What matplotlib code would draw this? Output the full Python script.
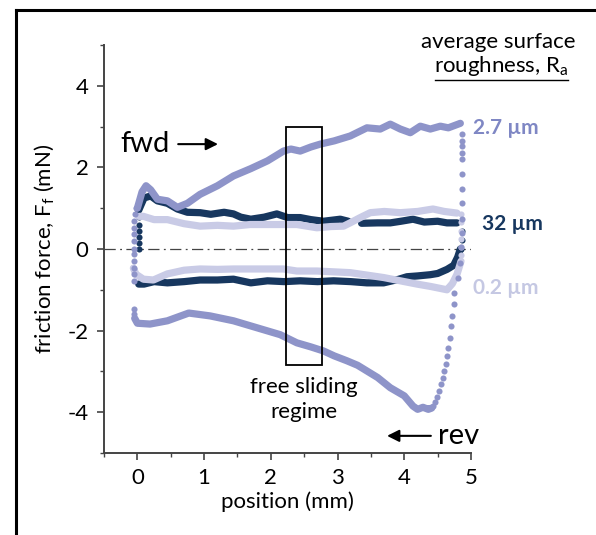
import numpy as np
import matplotlib.pyplot as plt
from matplotlib.lines import Line2D
from matplotlib.patches import Rectangle

plt.rcParams['font.family'] = ['Lato', 'DejaVu Sans']
plt.rcParams['mathtext.fontset'] = 'custom'
plt.rcParams['mathtext.rm'] = 'Lato'
plt.rcParams['mathtext.default'] = 'regular'

# colours for the three surfaces
c_27 = '#8e94c9'
c_32 = '#17375f'
c_02 = '#c9cbe6'

# ---- 2.7 um ----
fwd27_x = [0.00, 0.07, 0.13, 0.20, 0.30, 0.45, 0.60, 0.75, 0.94, 1.20, 1.44, 1.70, 1.95, 2.19, 2.30,
           2.44, 2.60, 2.74, 2.95, 3.19, 3.44, 3.64, 3.79, 3.94, 4.09, 4.24, 4.39, 4.54, 4.66, 4.84]
fwd27_y = [1.00, 1.40, 1.55, 1.45, 1.22, 1.18, 1.02, 1.12, 1.34, 1.55, 1.79, 1.97, 2.16, 2.40, 2.45,
           2.40, 2.50, 2.57, 2.65, 2.77, 2.97, 2.94, 3.06, 2.94, 2.85, 3.01, 2.94, 3.01, 2.97, 3.08]
rev27_x = [4.41, 4.36, 4.28, 4.20, 4.13, 4.00, 3.79, 3.60, 3.44, 3.30, 3.14, 2.95, 2.79, 2.60, 2.39,
           2.14, 1.79, 1.44, 1.09, 0.77, 0.45, 0.19, 0.00, -0.04]
rev27_y = [-3.90, -3.93, -3.88, -3.93, -3.85, -3.60, -3.40, -3.15, -2.99, -2.85, -2.74, -2.62, -2.50,
           -2.40, -2.30, -2.10, -1.93, -1.76, -1.64, -1.57, -1.76, -1.84, -1.82, -1.70]
# sparse dots at the turning points
turn27_x = [-0.05, -0.05, -0.05, -0.05, -0.05, -0.05, -0.05, -0.05, -0.05, -0.05, -0.04, -0.02, -0.05, -0.05,
            4.86, 4.86, 4.86, 4.86, 4.86, 4.86, 4.86, 4.86, 4.86, 4.86, 4.85, 4.83, 4.80, 4.75, 4.74, 4.72,
            4.70, 4.68, 4.66, 4.64, 4.62, 4.60, 4.58, 4.55, 4.52, 4.49, 4.46, 4.43]
turn27_y = [-0.78, -0.62, -0.47, -0.30, -0.12, 0.00, 0.20, 0.37, 0.51, 0.69, 0.86, 1.00, -1.47, -1.60,
            2.82, 2.65, 2.52, 2.35, 2.20, 1.83, 1.47, 1.13, 0.73, 0.40, 0.05, -0.35, -0.72, -1.08, -1.35,
            -1.64, -1.89, -2.18, -2.43, -2.62, -2.82, -2.99, -3.16, -3.31, -3.48, -3.62, -3.75, -3.85]

# ---- 32 um ----
fwd32_x = [0.02, 0.10, 0.20, 0.30, 0.45, 0.60, 0.75, 0.94, 1.10, 1.30, 1.44, 1.55, 1.70, 1.90, 2.09,
           2.25, 2.44, 2.60, 2.79, 3.04, 3.16]
fwd32_y = [0.95, 1.25, 1.30, 1.18, 1.12, 0.98, 0.90, 0.89, 0.85, 0.90, 0.86, 0.78, 0.73, 0.78, 0.86,
           0.77, 0.77, 0.72, 0.68, 0.73, 0.68]
fwd32b_x = [3.36, 3.60, 3.79, 3.95, 4.13, 4.30, 4.50, 4.64, 4.79]
fwd32b_y = [0.63, 0.64, 0.64, 0.68, 0.73, 0.66, 0.68, 0.64, 0.64]
rev32_x = [4.84, 4.80, 4.74, 4.64, 4.50, 4.39, 4.20, 4.04, 3.90, 3.69, 3.44, 3.20, 2.94, 2.70, 2.44,
           2.20, 1.95, 1.70, 1.44, 1.20, 0.94, 0.70, 0.45, 0.25, 0.10, 0.02]
rev32_y = [0.00, -0.20, -0.40, -0.50, -0.60, -0.63, -0.66, -0.68, -0.75, -0.83, -0.83, -0.80, -0.78,
           -0.80, -0.78, -0.80, -0.78, -0.83, -0.74, -0.76, -0.76, -0.80, -0.83, -0.80, -0.86, -0.86]
turn32_x = [0.02, 0.02, 0.02, 0.02, 0.02, 0.02, 4.86, 4.86, 4.85]
turn32_y = [0.00, 0.15, 0.30, 0.45, 0.60, 0.78, 0.44, 0.22, 0.00]

# ---- 0.2 um ----
fwd02_x = [0.02, 0.09, 0.25, 0.45, 0.70, 0.94, 1.20, 1.44, 1.69, 1.95, 2.19, 2.39, 2.69, 2.90, 3.09,
           3.20, 3.34, 3.49, 3.70, 3.94, 4.20, 4.43, 4.60, 4.79]
fwd02_y = [0.80, 0.80, 0.72, 0.72, 0.62, 0.56, 0.58, 0.56, 0.60, 0.60, 0.60, 0.60, 0.52, 0.55, 0.56,
           0.65, 0.77, 0.89, 0.92, 0.89, 0.92, 0.98, 0.92, 0.88]
rev02_x = [4.85, 4.79, 4.72, 4.64, 4.58, 4.40, 4.19, 3.94, 3.69, 3.44, 3.19, 2.94, 2.69, 2.39, 2.19,
           1.95, 1.69, 1.44, 1.20, 0.94, 0.70, 0.45, 0.24, 0.09, -0.02, -0.06]
rev02_y = [-0.30, -0.62, -0.85, -1.00, -0.98, -0.92, -0.86, -0.78, -0.70, -0.64, -0.58, -0.56, -0.54,
           -0.54, -0.49, -0.49, -0.49, -0.49, -0.50, -0.49, -0.52, -0.61, -0.76, -0.74, -0.62, -0.47]
turn02_x = [4.85, 4.85, 4.85, 4.85, 4.85, 4.85]
turn02_y = [0.85, 0.65, 0.45, 0.25, 0.05, -0.15]

# annotation positions
box_x = [2.22, 2.77]
box_y = [-2.85, 3.00]

fig = plt.figure(figsize=(5.96, 5.35), dpi=100)
ax = fig.add_axes([0.1745, 0.1533, 0.6158, 0.7626])

lw = 5.2
ms = 4.4
# 32 um first, then 0.2, then 2.7 on top
ax.plot(fwd32_x, fwd32_y, color=c_32, lw=lw, solid_capstyle='round', solid_joinstyle='round')
ax.plot(fwd32b_x, fwd32b_y, color=c_32, lw=lw, solid_capstyle='round', solid_joinstyle='round')
ax.plot(rev32_x, rev32_y, color=c_32, lw=lw, solid_capstyle='round', solid_joinstyle='round')
ax.plot(turn32_x, turn32_y, 'o', color=c_32, ms=ms, mew=0)

ax.plot(fwd02_x, fwd02_y, color=c_02, lw=lw, solid_capstyle='round', solid_joinstyle='round')
ax.plot(rev02_x, rev02_y, color=c_02, lw=lw, solid_capstyle='round', solid_joinstyle='round')
ax.plot(turn02_x, turn02_y, 'o', color=c_02, ms=ms, mew=0)

ax.plot(fwd27_x, fwd27_y, color=c_27, lw=lw, solid_capstyle='round', solid_joinstyle='round')
ax.plot(rev27_x, rev27_y, color=c_27, lw=lw, solid_capstyle='round', solid_joinstyle='round')
ax.plot(turn27_x, turn27_y, 'o', color=c_27, ms=ms, mew=0)

ax.axhline(0, color='#444444', lw=0.9, ls=(0, (9, 3.5, 1.5, 3.5)), zorder=0)

ax.add_patch(Rectangle((box_x[0], box_y[0]), box_x[1] - box_x[0], box_y[1] - box_y[0],
                       fill=False, ec='black', lw=1.3, zorder=5))

ax.set_xlim(-0.5, 5)
ax.set_ylim(-5, 5)
ax.set_xticks([0, 1, 2, 3, 4, 5])
ax.set_xticks(np.arange(-0.5, 5, 1.0), minor=True)
ax.set_yticks([-4, -2, 0, 2, 4])
ax.set_yticks([-5, -3, -1, 1, 3, 5], minor=True)
ax.set_yticklabels(['-4', '-2', '0', '2', '4'])
for side in ['top', 'right']:
    ax.spines[side].set_visible(False)
for side in ['left', 'bottom']:
    ax.spines[side].set_color('#444444')
    ax.spines[side].set_linewidth(1.4)
ax.tick_params(which='major', length=5, width=1.2, color='#444444', labelsize=16, pad=6)
ax.tick_params(which='minor', length=3, width=1.0, color='#444444')

ax.set_xlabel('position (mm)', fontsize=16, labelpad=2)
ax.set_ylabel('friction force, $F_f$ (mN)', fontsize=16, labelpad=8)

# direction labels
ax.text(0.49, 2.57, 'fwd', fontsize=21, ha='right', va='center')
ax.annotate('', xy=(1.25, 2.57), xytext=(0.57, 2.57),
            arrowprops=dict(arrowstyle='-|>', color='black', lw=1.5, mutation_scale=18))
ax.text(4.5, -4.58, 'rev', fontsize=21, ha='left', va='center', clip_on=False)
ax.annotate('', xy=(3.7, -4.58), xytext=(4.44, -4.58),
            arrowprops=dict(arrowstyle='-|>', color='black', lw=1.5, mutation_scale=18))

ax.text(2.5, -3.68, 'free sliding\nregime', fontsize=16, ha='center', va='center', linespacing=1.3)

# series labels
ax.text(5.03, 2.97, '2.7 µm', color='#7f87c4', fontsize=15, fontweight='bold', va='center', clip_on=False)
ax.text(5.17, 0.61, '32 µm', color=c_32, fontsize=15, fontweight='bold', va='center', clip_on=False)
ax.text(5.03, -0.96, '0.2 µm', color='#c5c8e3', fontsize=15, fontweight='bold', va='center', clip_on=False)

fig.text(0.836, 1 - 42 / 535, 'average surface', fontsize=16, ha='center', va='center')
fig.text(0.840, 1 - 66 / 535, 'roughness, $R_a$', fontsize=16, ha='center', va='center')
fig.add_artist(Line2D([435 / 596, 568 / 596], [1 - 80 / 535, 1 - 80 / 535], color='black', lw=1.0))

# outer frame (cropped at right and bottom)
fig.add_artist(Line2D([16 / 596, 16 / 596], [0, 1 - 10 / 535], color='black', lw=2.2))
fig.add_artist(Line2D([16 / 596, 1], [1 - 10 / 535, 1 - 10 / 535], color='black', lw=2.2))

fig.savefig('out.png', dpi=100)
